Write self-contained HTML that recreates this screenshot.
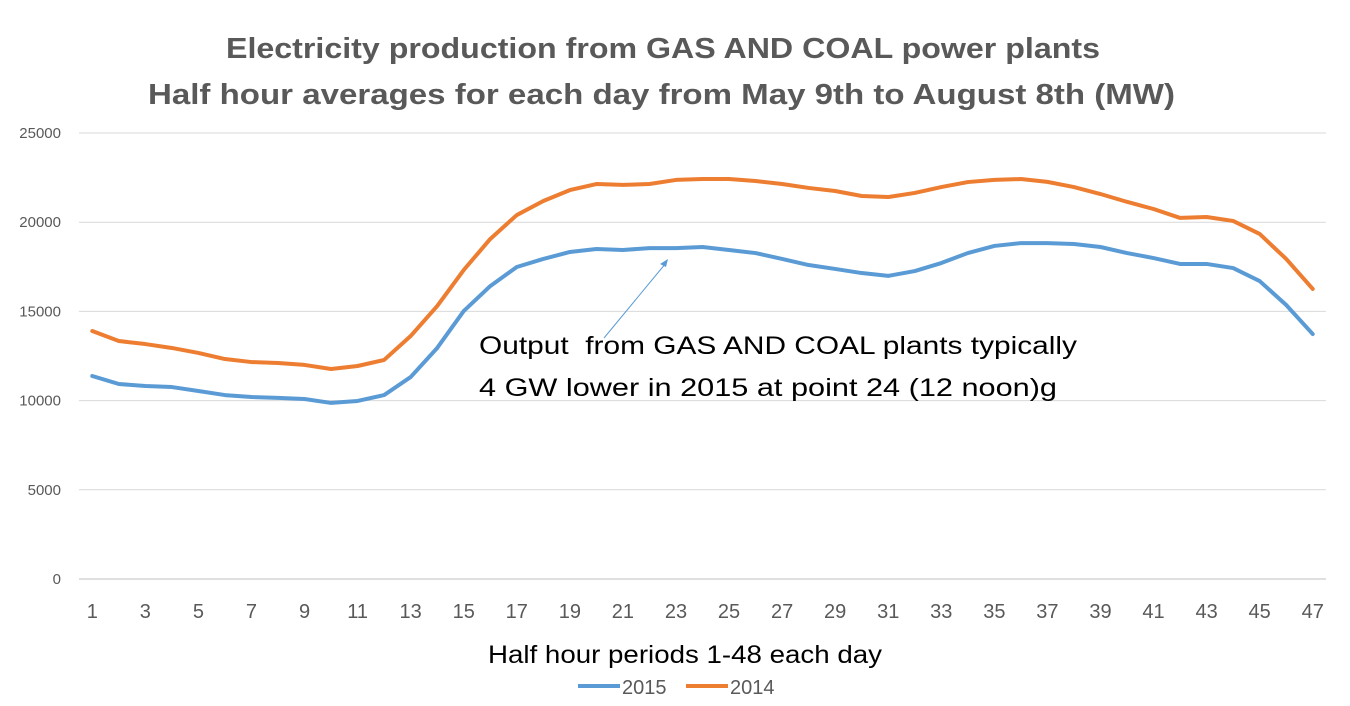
<!DOCTYPE html>
<html><head><meta charset="utf-8"><style>
body{margin:0;background:#fff;width:1350px;height:701px;overflow:hidden}
svg{font-family:"Liberation Sans",sans-serif}
</style></head><body>
<svg id="chart" width="1350" height="701" xmlns="http://www.w3.org/2000/svg">
<text x="226" y="58" textLength="874" lengthAdjust="spacingAndGlyphs" font-size="29" font-weight="bold" fill="#595959">Electricity production from GAS AND COAL power plants</text>
<text x="148" y="104" textLength="1027" lengthAdjust="spacingAndGlyphs" font-size="29" font-weight="bold" fill="#595959">Half hour averages for each day from May 9th to August 8th (MW)</text>
<g id="grid"></g><g id="yticks"></g><g id="xticks"></g><g id="series"></g>
<line x1="604" y1="338" x2="666" y2="263" stroke="#5b9bd5" stroke-width="1"/>
<polygon points="668,259 660,264 666,267" fill="#5b9bd5"/>
<text x="479" y="354" textLength="598" lengthAdjust="spacingAndGlyphs" font-size="25" fill="#000" xml:space="preserve">Output  from GAS AND COAL plants typically</text>
<text x="479" y="396" textLength="578" lengthAdjust="spacingAndGlyphs" font-size="25" fill="#000">4 GW lower in 2015 at point 24 (12 noon)g</text>
<text x="488" y="663" textLength="394" lengthAdjust="spacingAndGlyphs" font-size="25" fill="#000">Half hour periods 1-48 each day</text>
<line x1="578" y1="686" x2="620" y2="686" stroke="#5b9bd5" stroke-width="4"/>
<text x="622" y="694" font-size="20" fill="#595959">2015</text>
<line x1="686" y1="686" x2="728" y2="686" stroke="#ed7d31" stroke-width="4"/>
<text x="730" y="694" font-size="20" fill="#595959">2014</text>
</svg>
<script>
const categories=[];for(let i=1;i<=47;i++)categories.push(i);
const s2015=[11380,10930,10820,10760,10540,10310,10200,10150,10090,9870,9980,10310,11320,12950,15020,16420,17490,17940,18330,18500,18440,18550,18550,18610,18440,18270,17940,17600,17380,17150,16990,17260,17710,18270,18670,18830,18830,18780,18610,18270,17990,17660,17660,17430,16700,15360,13730];
const s2014=[13900,13340,13170,12950,12670,12330,12160,12110,12000,11770,11940,12280,13620,15300,17320,19060,20400,21190,21800,22140,22090,22140,22370,22420,22420,22310,22140,21920,21750,21470,21410,21640,21970,22250,22370,22420,22260,21970,21580,21140,20740,20240,20290,20070,19340,17940,16260];
const yTicks=[0,5000,10000,15000,20000,25000];
const NS="http://www.w3.org/2000/svg";
const x0=79,x1=1326,y0=579,y1=133,yMax=25000;
const xs=i=>x0+(i+0.5)*(x1-x0)/categories.length;
const ys=v=>y0-(v/yMax)*(y0-y1);
function mk(t,a,p){const e=document.createElementNS(NS,t);for(const k in a)e.setAttribute(k,a[k]);p.appendChild(e);return e;}
const grid=document.getElementById('grid'),yt=document.getElementById('yticks'),xt=document.getElementById('xticks'),se=document.getElementById('series');
yTicks.forEach(v=>{
 const l=mk('line',{x1:x0,x2:x1,y1:ys(v),y2:ys(v),stroke:v===0?'#bfbfbf':'#d9d9d9','stroke-width':1},grid);
 
 
 const t=mk('text',{x:61,y:ys(v)+5,'text-anchor':'end','font-size':15,fill:'#595959'},yt);t.textContent=v;
 
 
});
categories.forEach((c,i)=>{if(c%2===1){
 const t=mk('text',{x:xs(i),y:618,'text-anchor':'middle','font-size':20,fill:'#595959'},xt);t.textContent=c;
 
 
}});
[[s2014,'#ed7d31','2014'],[s2015,'#5b9bd5','2015']].forEach(([d,col,n])=>{
 const p=mk('polyline',{points:d.map((v,i)=>xs(i)+','+ys(v)).join(' '),fill:'none',stroke:col,'stroke-width':4,'stroke-linejoin':'round','stroke-linecap':'round'},se);
 
 
});
</script>
</body></html>
